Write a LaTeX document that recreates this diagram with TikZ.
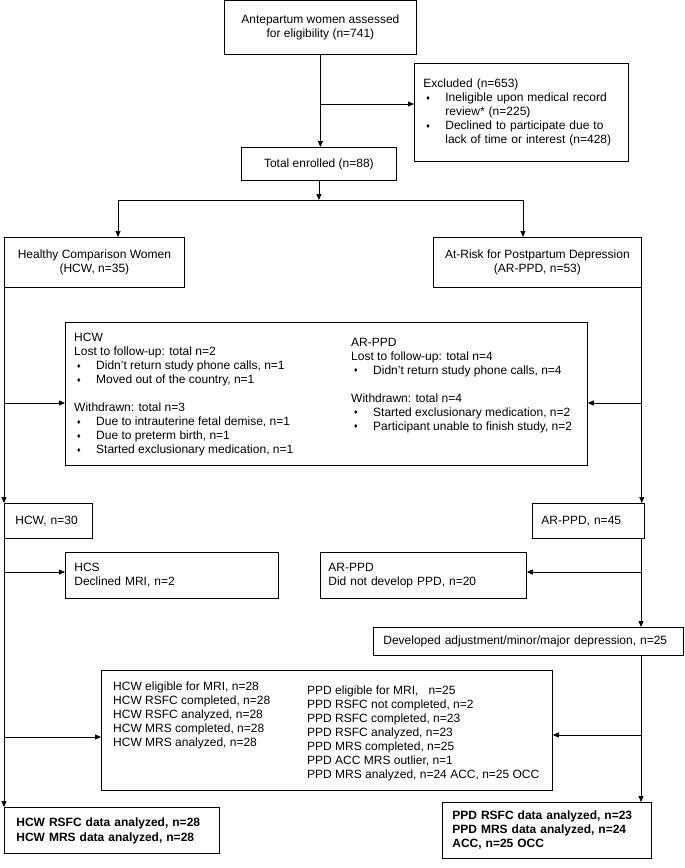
\documentclass[tikz,border=0pt]{standalone}
\usepackage{fontspec}
\setmainfont{Liberation Sans}
\usetikzlibrary{arrows.meta}
\newcommand{\bul}{\makebox[22pt][l]{\hspace{3pt}\raisebox{1.5pt}{\fontsize{7}{7}\selectfont ♦}}}
\newcommand{\cont}{\hspace*{22pt}}
\begin{document}
\begin{tikzpicture}[x=1pt,y=-1pt,
  font=\fontsize{12}{14}\selectfont,
  box/.style={draw, line width=0.8pt, inner sep=0pt, anchor=north west},
  cbox/.style={box, align=center},
  lbox/.style={box, align=left},
  txt/.style={anchor=north west, inner sep=0pt, align=left},
  arr/.style={line width=0.8pt, -{Triangle[length=6pt,width=5pt]}},
  ln/.style={line width=0.8pt}]
\useasboundingbox (0,0) rectangle (685,868);

% boxes
\node[cbox, minimum width=192pt, minimum height=54pt] (ante) at (224,0)
  {Antepartum women assessed\\for eligibility (n=741)};
\node[lbox, text width=196pt, inner xsep=9pt, minimum height=98pt] (excl) at (414,63)
  {Excluded (n=653)\\\bul Ineligible upon medical record\\\cont review* (n=225)\\\bul Declined to participate due to\\\cont lack of time or interest (n=428)};
\node[cbox, minimum width=155pt, minimum height=33pt] (total) at (241,147)
  {Total enrolled (n=88)};
\node[cbox, minimum width=180pt, minimum height=50pt] (hcw) at (4,237)
  {Healthy Comparison Women\\(HCW, n=35)};
\node[cbox, minimum width=208pt, minimum height=50pt] (ar) at (433,237)
  {At-Risk for Postpartum Depression\\(AR-PPD, n=53)};

\node[box, minimum width=522pt, minimum height=143pt] (mid) at (65,322) {};
\node[txt] (midL) at (74,333)
  {HCW\\Lost to follow-up: total n=2\\\bul Didn’t return study phone calls, n=1\\\bul Moved out of the country, n=1\\[14pt]Withdrawn: total n=3\\\bul Due to intrauterine fetal demise, n=1\\\bul Due to preterm birth, n=1\\\bul Started exclusionary medication, n=1};
\node[txt] (midR) at (351,338)
  {AR-PPD\\Lost to follow-up: total n=4\\\bul Didn’t return study phone calls, n=4\\[14pt]Withdrawn: total n=4\\\bul Started exclusionary medication, n=2\\\bul Participant unable to finish study, n=2};

\node[lbox, text width=66pt, inner xsep=11pt, minimum height=35pt] (hcw30) at (4,503) {HCW, n=30};
\node[lbox, text width=94pt, inner xsep=9pt, minimum height=35pt] (ar45) at (532,503) {AR-PPD, n=45};
\node[lbox, text width=195pt, inner xsep=9pt, minimum height=46pt] (hcs) at (65,552) {HCS\\Declined MRI, n=2};
\node[lbox, text width=190pt, inner xsep=8pt, minimum height=46pt] (ar20) at (320,552) {AR-PPD\\Did not develop PPD, n=20};
\node[lbox, text width=290pt, inner xsep=10pt, minimum height=28pt] (dev) at (373,627) {Developed adjustment/minor/major depression, n=25};

\node[box, minimum width=451pt, minimum height=120pt] (big) at (101,670) {};
\node[txt] (bigL) at (113,682)
  {HCW eligible for MRI, n=28\\HCW RSFC completed, n=28\\HCW RSFC analyzed, n=28\\HCW MRS completed, n=28\\HCW MRS analyzed, n=28};
\node[txt] (bigR) at (307,686)
  {PPD eligible for MRI, \ \ n=25\\PPD RSFC not completed, n=2\\PPD RSFC completed, n=23\\PPD RSFC analyzed, n=23\\PPD MRS completed, n=25\\PPD ACC MRS outlier, n=1\\PPD MRS analyzed, n=24 ACC, n=25 OCC};

\node[lbox, text width=191pt, inner xsep=12pt, minimum height=46pt, font=\fontsize{12}{15}\selectfont\bfseries] (finL) at (4,807)
  {HCW RSFC data analyzed, n=28\\HCW MRS data analyzed, n=28};
\node[lbox, text width=189pt, inner xsep=10pt, minimum height=56pt, font=\fontsize{12}{14}\selectfont\bfseries] (finR) at (442,802)
  {PPD RSFC data analyzed, n=23\\PPD MRS data analyzed, n=24\\ACC, n=25 OCC};

% connectors
\draw[arr] (ante.south) -- (ante.south |- total.north);
\coordinate (b1) at (320,104);
\draw[arr] (b1) -- (b1 -| excl.west);
\coordinate (sl) at (118,200);
\coordinate (sr) at (523,200);
\draw[arr] (total.south) -- (total.south |- sl);
\draw[ln] (sl) -- (sr);
\draw[arr] (sl) -- (sl |- hcw.north);
\draw[arr] (sr) -- (sr |- ar.north);

% left spine
\draw[arr] (hcw.south west) -- (hcw30.north west);
\coordinate (l1) at (4,403);
\draw[arr] (l1) -- (l1 -| mid.west);
\draw[arr] (hcw30.south west) -- (hcw30.south west |- finL.north);
\coordinate (l2) at (4,572);
\draw[arr] (l2) -- (l2 -| hcs.west);
\coordinate (l3) at (4,737);
\draw[arr] (l3) -- (l3 -| big.west);

% right spine
\draw[arr] (ar.south east) -- (ar.south east |- ar45.north);
\coordinate (r1) at (641,403);
\draw[arr] (r1) -- (r1 -| mid.east);
\coordinate (r2) at (641,538);
\draw[arr] (r2) -- (r2 |- dev.north);
\coordinate (r3) at (641,572);
\draw[arr] (r3) -- (r3 -| ar20.east);
\coordinate (r4) at (641,655);
\draw[arr] (r4) -- (r4 |- finR.north);
\coordinate (r5) at (641,735);
\draw[arr] (r5) -- (r5 -| big.east);
\end{tikzpicture}
\end{document}
